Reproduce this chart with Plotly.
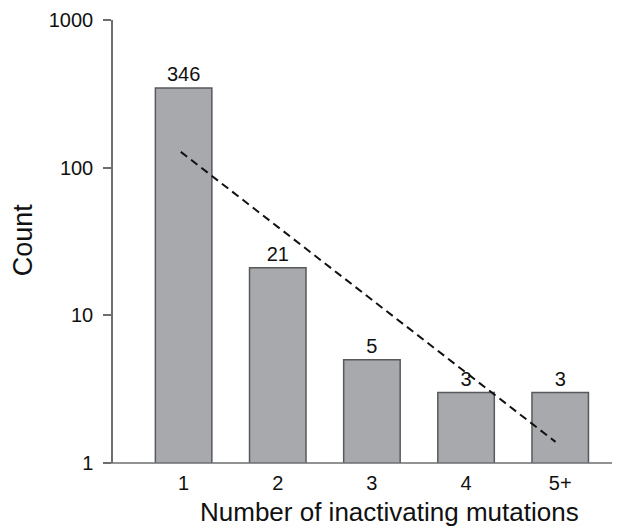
import plotly.graph_objects as go

categories = ["1", "2", "3", "4", "5+"]
counts = [346, 21, 5, 3, 3]
trend_x = [0.97, 4.95]
trend_y = [128, 1.39]
y_ticks = [1, 10, 100, 1000]
y_ticktext = ["1", "10", "100", "1000"]

xpos = list(range(1, len(categories) + 1))

fig = go.Figure()
fig.add_trace(go.Bar(
    x=xpos, y=counts, width=0.6,
    marker=dict(color="#A7A9AC", line=dict(color="#58595B", width=1.5)),
    text=[str(c) for c in counts], textposition="outside",
    textfont=dict(size=20, color="#111"), cliponaxis=False,
    showlegend=False,
))
fig.add_trace(go.Scatter(
    x=trend_x, y=trend_y, mode="lines",
    line=dict(color="#111", width=2, dash="8px,5px"),
    showlegend=False,
))

fig.update_layout(
    width=620, height=528,
    margin=dict(l=113, r=8, t=20, b=65),
    plot_bgcolor="white", paper_bgcolor="white",
    font=dict(family="Liberation Sans, Arial, sans-serif", color="#111"),
    xaxis=dict(
        range=[0.25, 5.55], tickvals=xpos, ticktext=categories,
        showgrid=False, zeroline=False, showline=False,
        ticks="outside", ticklen=2, tickcolor="rgba(0,0,0,0)",
        tickfont=dict(size=20, color="#111"),
    ),
    yaxis=dict(
        type="log", range=[0, 3], tickvals=y_ticks, ticktext=y_ticktext,
        showgrid=False, zeroline=False, showline=True, linecolor="#6D6E71",
        linewidth=1.5, ticks="outside", ticklen=8, tickcolor="#6D6E71",
        tickwidth=1.5, tickfont=dict(size=20, color="#111"),
        ticklabelstandoff=6,
    ),
    shapes=[dict(type="line", xref="paper", yref="paper", x0=-0.018, x1=1.0,
                 y0=0, y1=0, line=dict(color="#6D6E71", width=1.5))],
    annotations=[
        dict(text="Number of inactivating mutations", xref="paper",
             yref="paper", x=0.555, y=-0.111, xanchor="center",
             yanchor="middle", showarrow=False,
             font=dict(size=26, color="#111")),
        dict(text="Count", xref="paper", yref="paper", x=-0.180, y=0.503,
             xanchor="center", yanchor="middle", textangle=-90,
             showarrow=False, font=dict(size=27, color="#111")),
    ],
)

fig.write_html(
    "out.html",
    config={"displayModeBar": False},
    post_script="document.body.style.margin='0';"
                "document.documentElement.style.overflow='hidden';"
                "document.body.style.overflow='hidden';",
)
